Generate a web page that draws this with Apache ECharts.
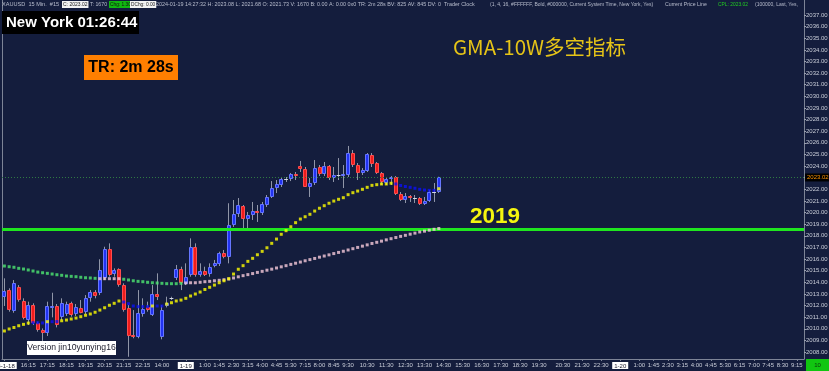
<!DOCTYPE html>
<html><head><meta charset="utf-8">
<script src="https://cdn.jsdelivr.net/npm/echarts@6/dist/echarts.min.js"></script>
<style>html,body{margin:0;padding:0;background:#141d3d;}#c{width:829px;height:371px;}</style>
</head><body><div id="c"></div>
<script>
// ---- data ----
const barCount = 168; // time slots on the axis (bars + future area)
const opens  = [2012.71,2013.33,2011.55,2013.56,2012.39,2010.69,2012.02,2010.47,2009.89,2009.61,2011.82,2011.96,2010.98,2011.27,2012.19,2011.24,2011.81,2011.38,2012.67,2013.16,2013.05,2014.34,2016.84,2014.69,2015.11,2013.76,2011.76,2009.44,2009.32,2011.27,2011.84,2011.18,2012.99,2009.32,2011.96,2012.62,2014.34,2015.11,2013.91,2014.62,2017.06,2014.62,2015.00,2014.69,2015.40,2015.55,2016.49,2016.15,2018.93,2019.87,2020.59,2019.44,2019.79,2020.13,2019.96,2020.65,2021.34,2022.11,2022.37,2022.89,2022.89,2023.32,2024.01,2023.75,2022.20,2022.54,2023.92,2023.32,2024.01,2022.97,2023.23,2023.14,2023.23,2025.12,2024.09,2023.40,2023.57,2024.95,2024.26,2023.40,2022.54,2022.89,2023.06,2021.60,2021.08,2021.42,2021.25,2021.25,2020.74,2020.99,2021.77,2021.73];
const closes = [2013.25,2011.61,2013.96,2012.41,2010.90,2012.02,2010.47,2009.89,2009.66,2011.93,2011.96,2010.32,2012.19,2012.13,2011.18,2011.84,2011.38,2012.62,2013.16,2012.82,2015.06,2016.84,2014.62,2015.06,2013.76,2011.61,2009.38,2009.26,2011.38,2011.73,2011.61,2012.99,2012.71,2011.61,2012.24,2012.62,2015.11,2013.91,2014.48,2017.06,2014.62,2015.00,2014.69,2015.29,2015.63,2016.49,2016.15,2018.93,2019.87,2020.65,2019.44,2019.79,2020.13,2019.96,2020.74,2021.34,2022.11,2022.46,2022.89,2022.89,2023.32,2023.14,2023.75,2022.20,2022.54,2023.83,2023.32,2024.01,2022.97,2023.23,2023.23,2023.32,2025.12,2024.09,2023.40,2023.66,2025.04,2024.18,2023.40,2022.63,2022.89,2023.06,2021.60,2021.08,2021.42,2021.25,2021.25,2020.74,2020.99,2021.77,2021.77,2023.02];
const lows   = [2011.96,2011.47,2011.38,2012.33,2010.81,2010.32,2010.32,2009.75,2008.88,2009.38,2010.98,2010.12,2010.75,2011.10,2011.04,2011.10,2011.33,2011.27,2012.33,2012.62,2012.90,2014.19,2014.48,2014.48,2013.62,2011.47,2007.59,2009.18,2009.18,2011.04,2011.47,2011.10,2012.47,2009.09,2011.84,2012.47,2014.19,2013.33,2013.76,2014.48,2014.48,2014.48,2014.54,2014.48,2015.29,2015.40,2016.06,2015.63,2018.76,2019.62,2018.50,2018.50,2019.36,2019.19,2019.79,2020.48,2021.25,2021.68,2022.20,2022.63,2022.71,2022.80,2023.49,2022.20,2021.34,2022.37,2023.14,2023.14,2022.80,2022.63,2022.80,2022.11,2023.06,2023.92,2022.80,2023.23,2023.49,2023.92,2023.32,2022.37,2022.37,2022.37,2021.51,2020.99,2020.82,2020.91,2020.82,2020.65,2020.65,2020.91,2020.91,2021.68];
const highs  = [2014.34,2013.48,2014.19,2013.76,2012.62,2012.33,2012.19,2010.61,2010.03,2012.33,2013.10,2012.13,2012.62,2012.33,2012.33,2012.13,2012.47,2012.90,2013.33,2013.33,2015.98,2017.06,2017.35,2015.20,2015.20,2013.91,2012.04,2011.61,2013.33,2012.62,2012.33,2013.76,2014.77,2012.04,2012.76,2012.76,2015.49,2015.34,2015.63,2017.78,2017.35,2015.63,2015.34,2015.63,2015.92,2016.63,2016.78,2020.80,2021.08,2021.25,2020.65,2020.05,2020.91,2020.65,2020.91,2021.51,2022.71,2022.80,2023.06,2023.06,2023.40,2023.49,2024.44,2023.92,2022.97,2024.52,2024.09,2024.35,2024.09,2023.92,2024.69,2024.09,2025.73,2025.38,2024.26,2023.83,2025.12,2025.12,2024.35,2023.49,2023.06,2023.14,2023.14,2021.77,2021.68,2021.51,2021.51,2021.34,2021.34,2021.94,2022.54,2023.08];
// fast moving average (yellow, blue where price is below it)
const fastMA = [2009.81,2009.98,2010.11,2010.26,2010.38,2010.49,2010.52,2010.52,2010.50,2010.61,2010.61,2010.62,2010.69,2010.75,2010.84,2010.92,2011.04,2011.16,2011.27,2011.42,2011.61,2011.81,2012.02,2012.19,2012.39,2012.30,2012.16,2011.96,2011.90,2011.90,2011.90,2011.96,2011.96,2011.96,2012.13,2012.24,2012.39,2012.47,2012.62,2012.82,2012.99,2013.16,2013.38,2013.57,2013.76,2013.96,2014.13,2014.31,2014.71,2015.12,2015.43,2015.80,2016.06,2016.37,2016.66,2016.97,2017.35,2017.72,2018.13,2018.44,2018.78,2019.13,2019.44,2019.64,2019.85,2020.13,2020.37,2020.59,2020.80,2020.99,2021.14,2021.28,2021.54,2021.71,2021.85,2022.00,2022.17,2022.34,2022.40,2022.46,2022.46,2022.52,2022.46,2022.33,2022.24,2022.17,2022.09,2022.00,2021.94,2021.91,2021.91,2022.05];
const fastBlueRanges = [[6,8],[10,11],[25,30],[32,33],[82,90]];
// slow moving average (green, pink where price is above it)
const slowMA = [2015.40,2015.34,2015.29,2015.20,2015.14,2015.06,2014.97,2014.88,2014.82,2014.77,2014.71,2014.65,2014.60,2014.54,2014.51,2014.48,2014.43,2014.39,2014.37,2014.34,2014.31,2014.31,2014.31,2014.31,2014.31,2014.26,2014.20,2014.13,2014.08,2014.05,2014.00,2013.96,2013.94,2013.91,2013.88,2013.88,2013.88,2013.91,2013.94,2013.96,2013.96,2014.00,2014.05,2014.08,2014.13,2014.17,2014.22,2014.28,2014.37,2014.47,2014.57,2014.66,2014.75,2014.85,2014.94,2015.04,2015.13,2015.23,2015.33,2015.43,2015.54,2015.64,2015.74,2015.85,2015.95,2016.05,2016.16,2016.26,2016.36,2016.47,2016.57,2016.67,2016.78,2016.89,2017.00,2017.11,2017.22,2017.34,2017.44,2017.54,2017.65,2017.75,2017.85,2017.95,2018.04,2018.14,2018.23,2018.33,2018.40,2018.48,2018.56,2018.63];
const slowPinkRanges = [[20,24],[38,91]];
const levelLine = 2018.58;     // green horizontal level ("2019")
const lastPrice = 2023.02;
const yTicks = [2008,2009,2010,2011,2012,2013,2014,2015,2016,2017,2018,2019,2020,2021,2022,2023,2024,2025,2026,2027,2028,2029,2030,2031,2032,2033,2034,2035,2036,2037];
const xLabelIndex = [0,5,9,13,17,21,25,29,33,38,42,45,48,51,54,57,60,63,66,69,72,76,80,84,88,92,96,100,104,108,112,117,121,125,129,133,136,139,142,145,148,151,154,157,160,163,166];
const xLabelText = ['24-1-18','16:15','17:15','18:15','19:15','20:15','21:15','22:15','14:00','1-19','1:00','1:45','2:30','3:15','4:00','4:45','5:30','7:15','8:00','8:45','9:30','10:30','11:30','12:30','13:30','14:30','15:30','16:30','17:30','18:30','19:30','20:30','21:30','22:30','1-20','1:00','1:45','2:30','3:15','4:00','4:45','5:30','6:15','7:00','7:45','8:30','9:15'];
const dateLabels = ['24-1-18','1-19','1-20'];

// ---- chart ----
const chart = echarts.init(document.getElementById('c'), null, {renderer: 'canvas'});
const labelMap = {};
xLabelIndex.forEach((k, j) => { labelMap[k] = xLabelText[j]; });
const xData = [];
for (let i = 0; i < barCount; i++) {
  const t = labelMap[i];
  if (t && dateLabels.indexOf(t) >= 0) {
    xData.push({value: String(i), textStyle: {backgroundColor: '#ffffff', color: '#1a1a2a', padding: [1, 2, 0, 2]}});
  } else xData.push(String(i));
}
const inRanges = (i, rs) => rs.some(r => i >= r[0] && i <= r[1]);
const candleData = opens.map((o, i) => [i, o, closes[i], lows[i], highs[i]]);

function renderCandle(params, api) {
  const i = api.value(0), o = api.value(1), c = api.value(2), l = api.value(3), h = api.value(4);
  const pO = api.coord([i, o]), pC = api.coord([i, c]), pL = api.coord([i, l]), pH = api.coord([i, h]);
  const x = pO[0];
  const bw = api.size([1, 0])[0] * 0.8;
  const xc = Math.round(x - 0.5) + 0.5;
  const children = [{type: 'line', shape: {x1: xc, y1: pH[1], x2: xc, y2: pL[1]}, style: {stroke: '#9096a8', lineWidth: 1}}];
  if (c !== o) {
    const up = c > o;
    const top = Math.min(pO[1], pC[1]), bot = Math.max(pO[1], pC[1]);
    const left = Math.round(x - bw / 2);
    children.push({type: 'rect', shape: {x: left + 0.5, y: Math.round(top) + 0.5, width: Math.round(bw) - 1, height: Math.max(1, Math.round(bot - top) - 1)},
      style: {fill: up ? '#2233f2' : '#ee1c1c', stroke: up ? '#6676ff' : '#ff4d4d', lineWidth: 1}});
  } else {
    const yy = Math.round(pO[1]) + 0.5;
    children.push({type: 'line', shape: {x1: x - bw / 2, y1: yy, x2: x + bw / 2, y2: yy}, style: {stroke: '#d4d8e4', lineWidth: 1}});
  }
  return {type: 'group', children};
}

const txt = '#c9cdd8';
const hdrFont = 'Liberation Sans';
function hText(x, s, size, opts) {
  return {type: 'text', x: x, y: 4.5, z: 50, style: Object.assign({text: s, fill: '#b9bece', fontSize: size, fontFamily: hdrFont, verticalAlign: 'middle'}, opts || {})};
}

chart.setOption({
  animation: false,
  backgroundColor: '#141d3d',
  grid: {left: 2, right: 25, top: 0, bottom: 12, containLabel: false, outerBoundsMode: 'none'},
  xAxis: {
    type: 'category', data: xData, boundaryGap: true,
    axisLine: {show: true, lineStyle: {color: '#7d8496', width: 1}},
    axisTick: {show: true, length: 2, alignWithLabel: true, interval: (i) => labelMap[i] !== undefined, lineStyle: {color: '#7d8496'}},
    axisLabel: {show: true, interval: (i) => labelMap[i] !== undefined, formatter: (v, i) => labelMap[i] || '', color: txt, fontSize: 6, fontFamily: hdrFont, margin: 3},
    splitLine: {show: false}
  },
  yAxis: [{
    type: 'value', position: 'right', min: 2007.398, max: 2038.291, scale: true,
    axisLine: {show: true, lineStyle: {color: '#7d8496'}},
    axisTick: {show: true, length: 2, customValues: yTicks, lineStyle: {color: '#9aa0b0'}},
    axisLabel: {show: true, customValues: yTicks, formatter: v => v.toFixed(2), color: txt, fontSize: 6, fontFamily: hdrFont, margin: 2},
    splitLine: {show: false}
  }, {
    type: 'value', position: 'left', min: 2007.398, max: 2038.291,
    axisLine: {show: true, lineStyle: {color: '#7d8496'}}, axisTick: {show: false}, axisLabel: {show: false}, splitLine: {show: false}
  }],
  series: [
    {type: 'line', data: [], silent: true,
      markLine: {silent: true, symbol: ['none', 'none'], animation: false, data: [
        {yAxis: lastPrice, lineStyle: {color: '#2f7a43', type: [1, 2], width: 1},
          label: {show: true, position: 'end', formatter: lastPrice.toFixed(2), color: '#ff9500', backgroundColor: '#000000', fontSize: 6, fontFamily: hdrFont, padding: [1, 2], distance: 1}},
        {yAxis: levelLine, lineStyle: {color: '#1fe61f', type: 'solid', width: 3}, label: {show: false}}
      ]}},
    {type: 'custom', renderItem: renderCandle, data: candleData, encode: {x: 0, y: [1, 2, 3, 4]}, z: 3, clip: true},
    {type: 'scatter', data: slowMA.map((v, i) => [i, v]), symbol: 'rect', symbolSize: 3, z: 5,
      itemStyle: {color: p => inRanges(p.dataIndex, slowPinkRanges) ? '#f6cadb' : '#4ee872'}},
    {type: 'scatter', data: fastMA.map((v, i) => [i, v]), symbol: 'rect', symbolSize: 3, z: 6,
      itemStyle: {color: p => inRanges(p.dataIndex, fastBlueRanges) ? '#0b10f6' : '#ffff00'}}
  ],
  graphic: [
    hText(2, 'XAUUSD  15 Min.  #15', 5.6),
    hText(62, 'C: 2023.02', 5.0, {backgroundColor: '#f2f2f2', fill: '#222', padding: [1, 1]}),
    hText(90, 'T: 1670', 5.2),
    hText(109, 'Chg: 1.30', 4.8, {backgroundColor: '#11b811', fill: '#111', padding: [1, 1]}),
    hText(130, 'DChg: 0.00', 4.8, {backgroundColor: '#f2f2f2', fill: '#222', padding: [1, 1]}),
    hText(156, '2024-01-19 14:27:32 H: 2023.08 L: 2021.68 O: 2021.73 V: 1670 B: 0.00 A: 0.00 0x0 TR: 2m 28s BV: 825 AV: 845 DV: 0  Trader Clock', 5.4),
    hText(490, '(1, 4, 16, #FFFFFF, Bold, #000000, Current System Time, New York, Yes)', 5.0),
    hText(665, 'Current Price Line', 5.2),
    hText(718, 'CPL: 2023.02', 4.9, {fill: '#22cc22'}),
    hText(755, '(100000, Last, Yes,', 5.0),
    {type: 'rect', z: 40, shape: {x: 2, y: 11, width: 137, height: 23}, style: {fill: '#000000'}},
    {type: 'text', z: 41, x: 6, y: 23, style: {text: 'New York 01:26:44', fill: '#ffffff', fontSize: 15, fontWeight: 'bold', fontFamily: 'Liberation Sans', verticalAlign: 'middle'}},
    {type: 'rect', z: 40, shape: {x: 84, y: 55, width: 94, height: 25}, style: {fill: '#ff7f00'}},
    {type: 'text', z: 41, x: 131, y: 68, style: {text: 'TR: 2m 28s', fill: '#000000', fontSize: 16, fontWeight: 'bold', fontFamily: 'Liberation Sans', align: 'center', verticalAlign: 'middle'}},
    {type: 'text', z: 41, x: 453, y: 47, style: {text: 'GMA-10W多空指标', fill: '#e6c417', fontSize: 20.5, fontFamily: 'Noto Sans CJK SC', verticalAlign: 'middle'}},
    {type: 'text', z: 41, x: 470, y: 217, style: {text: '2019', fill: '#f5f50f', fontSize: 22.5, fontWeight: 'bold', fontFamily: 'Liberation Sans', verticalAlign: 'middle'}},
    {type: 'rect', z: 40, shape: {x: 27, y: 341, width: 89, height: 14}, style: {fill: '#ffffff'}},
    {type: 'text', z: 41, x: 71.5, y: 348, style: {text: 'Version jin10yunying16', fill: '#1b1b2b', fontSize: 8.6, fontFamily: 'Liberation Sans', align: 'center', verticalAlign: 'middle'}},
    {type: 'rect', z: 40, shape: {x: 806, y: 359, width: 23, height: 12}, style: {fill: '#11c611'}},
    {type: 'text', z: 41, x: 817.5, y: 365, style: {text: '10', fill: '#0a3a0a', fontSize: 6, fontFamily: hdrFont, align: 'center', verticalAlign: 'middle'}}
  ]
});
</script>
</body></html>
